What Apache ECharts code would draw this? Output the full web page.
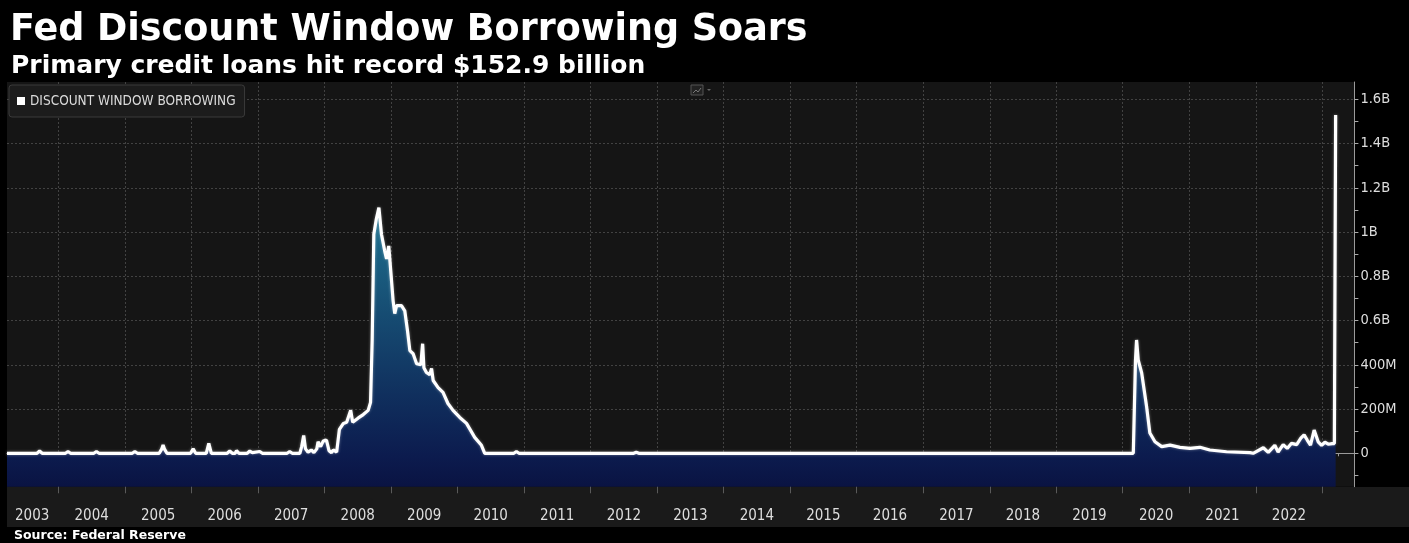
<!DOCTYPE html>
<html>
<head>
<meta charset="utf-8">
<script src="https://cdn.jsdelivr.net/npm/echarts@6/dist/echarts.min.js"></script>
<style>
html,body{margin:0;padding:0;background:#000;}
#chart{width:1409px;height:543px;}
</style>
</head>
<body>
<div id="chart"></div>
<script>
// ---- data (values in the chart's own axis units: millions) ----
const dates = [
'2003-03-25','2003-09-06','2003-09-20','2003-10-04','2004-02-09','2004-02-23','2004-03-08',
'2004-07-14','2004-07-28','2004-08-11','2004-08-25','2004-09-03','2004-09-17',
'2005-02-10','2005-02-24','2005-03-10','2005-07-08','2005-07-22','2005-07-29','2005-08-05','2005-08-19',
'2005-12-27','2006-01-10','2006-01-24','2006-03-23','2006-04-06','2006-04-20',
'2006-07-16','2006-07-30','2006-08-13','2006-08-29','2006-09-05','2006-09-19',
'2006-11-03','2006-11-17','2006-12-01','2007-01-11','2007-01-25','2007-06-10','2007-06-24','2007-07-08',
'2007-08-19','2007-08-29','2007-09-09','2007-09-19','2007-10-03','2007-10-21','2007-11-04',
'2007-11-20','2007-11-27','2007-12-11','2007-12-25','2008-01-12','2008-01-26','2008-02-09','2008-02-18',
'2008-03-08','2008-03-23','2008-04-14','2008-05-02','2008-05-24','2008-06-04','2008-07-05','2008-08-01',
'2008-08-28','2008-09-10','2008-09-19','2008-09-28','2008-10-12','2008-10-26','2008-11-09','2008-11-27',
'2008-12-07','2008-12-19','2008-12-30','2009-01-12','2009-01-21','2009-01-31','2009-02-27','2009-03-17',
'2009-04-01','2009-04-14','2009-05-02','2009-05-21','2009-06-13','2009-06-23','2009-06-30','2009-07-14',
'2009-08-01','2009-08-11','2009-08-20','2009-09-16','2009-10-13','2009-11-09','2009-12-07','2010-01-13',
'2010-02-19','2010-04-05','2010-05-12','2010-05-30','2010-11-06','2010-11-20','2010-12-04',
'2012-08-25','2012-09-08','2012-09-22','2015-12-10','2015-12-20','2016-01-03',
'2020-02-28','2020-03-11','2020-03-17','2020-03-26','2020-04-14','2020-05-11','2020-05-29','2020-06-26',
'2020-08-02','2020-09-17','2020-11-10','2021-01-04','2021-02-28','2021-04-23','2021-07-24','2021-11-30',
'2021-12-17','2022-02-11','2022-03-10','2022-04-15','2022-05-03','2022-05-31','2022-06-22','2022-07-16',
'2022-08-13','2022-09-05','2022-09-23','2022-10-10','2022-10-28','2022-11-17','2022-12-09','2022-12-28',
'2023-01-15','2023-02-02','2023-02-24','2023-03-08','2023-03-15'
];
const borrowing = [
0,0,10,0,0,8,0,
0,8,0,0,8,0,
0,8,0,0,20,37,20,0,
0,20,0,0,45,0,
0,10,0,0,12,0,
0,10,3,8,0,0,8,0,
0,30,80,20,5,15,3,
20,52,30,55,60,12,3,15,
5,108,135,140,194,140,160,175,
194,230,512,990,1060,1110,990,914,
878,937,824,689,631,667,667,644,
554,464,450,405,400,495,387,365,
355,383,329,297,275,225,194,162,
135,72,36,0,0,8,0,
0,5,0,0,6,0,
0,420,512,422,363,211,92,52,
30,37,27,22,27,15,7,3,
0,25,4,36,6,39,22,45,
39,68,83,60,37,105,52,36,
50,41,44,44,1529
];
const years = [2003,2004,2005,2006,2007,2008,2009,2010,2011,2012,2013,2014,2015,2016,2017,2018,2019,2020,2021,2022];
const yearLabelDates = ['2003-08-10','2004-07-02','2005-07-02','2006-07-02','2007-07-02','2008-07-02','2009-07-02',
'2010-07-02','2011-07-02','2012-07-02','2013-07-02','2014-07-02','2015-07-02','2016-07-02','2017-07-02',
'2018-07-02','2019-07-02','2020-07-02','2021-07-02','2022-07-02'];
const yTickValues = [0,200,400,600,800,1000,1200,1400,1600];
const yTickLabels = ['0','200M','400M','0.6B','0.8B','1B','1.2B','1.4B','1.6B'];
const yMinorTicks = [-100,0,100,200,300,400,500,600,700,800,900,1000,1100,1200,1300,1400,1500,1600];

const TITLE = 'Fed Discount Window Borrowing Soars';
const SUBTITLE = 'Primary credit loans hit record $152.9 billion';
const SOURCE = 'Source: Federal Reserve';
const SERIES_NAME = 'DISCOUNT WINDOW BORROWING';

// ---- axis helpers ----
const ts = s => { const p = s.split('-'); return Date.UTC(+p[0], +p[1]-1, +p[2]); };
const yearBounds = [];
for (let y = 2004; y <= 2023; y++) yearBounds.push(Date.UTC(y,0,1));
const quarterTicks = [];
for (let y = 2003; y <= 2023; y++) { [3,6,9].forEach(m => quarterTicks.push(Date.UTC(y,m,1))); }
const labelTs = yearLabelDates.map(ts);
const labelText = {};
labelTs.forEach((t,i) => { labelText[t] = String(years[i]); });

const FONT = '"DejaVu Sans", Verdana, sans-serif';
const FONT_C = '"DejaVu Sans Condensed", "Noto Sans", sans-serif';
const xMin = ts('2003-03-25'), xMax = ts('2023-06-26');
const yMin = -151, yMax = 1678;

const chart = echarts.init(document.getElementById('chart'), null, {renderer:'canvas'});
const gridLine = {show:true, lineStyle:{color:'#424242', width:1, type:[2,2]}};

chart.setOption({
  backgroundColor:'#000',
  animation:false,
  title:[
    {text:TITLE, left:5, top:7, textStyle:{color:'#fff', fontSize:36.5, fontWeight:'bold', fontFamily:FONT}},
    {text:SUBTITLE, left:6, top:49, textStyle:{color:'#fff', fontSize:25, fontWeight:'bold', fontFamily:FONT}},
    {text:SOURCE, left:9, top:524, textStyle:{color:'#fff', fontSize:12.5, fontWeight:'bold', fontFamily:FONT}}
  ],
  legend:{
    left:9, top:85, orient:'horizontal',
    backgroundColor:'#1c1c1c', borderColor:'#3a3a3a', borderWidth:1, borderRadius:3,
    padding:[9,9,9,8], icon:'rect', itemWidth:8, itemHeight:8,
    textStyle:{color:'#dcdcdc', fontSize:13.5, fontFamily:FONT_C},
    data:[{name:SERIES_NAME, itemStyle:{color:'#fff'}}]
  },
  grid:{left:7, right:54.6, top:82, bottom:56.3, show:true, backgroundColor:'#151515', borderWidth:0, containLabel:false},
  xAxis:[
    {type:'value', min:xMin, max:xMax, position:'bottom',
     axisLine:{show:true, lineStyle:{color:'#9a9a9a', width:1}},
     axisTick:{show:true, customValues:yearBounds, length:40, lineStyle:{color:'#5a5a5a', width:1}},
     axisLabel:{show:true, customValues:labelTs, color:'#dedede', fontSize:15, fontFamily:FONT_C, margin:22,
       formatter: v => labelText[v] || ''},
     splitLine:gridLine},
    {type:'value', min:xMin, max:xMax, position:'bottom',
     axisLine:{show:false},
     axisTick:{show:true, customValues:quarterTicks, length:3, lineStyle:{color:'#9a9a9a', width:1}},
     axisLabel:{show:false}, splitLine:{show:false}}
  ],
  yAxis:[
    {type:'value', position:'right', min:yMin, max:yMax,
     axisLine:{show:true, lineStyle:{color:'#9a9a9a', width:1}},
     axisTick:{show:true, customValues:yMinorTicks, length:4, lineStyle:{color:'#aaa'}},
     axisLabel:{show:true, customValues:yTickValues, color:'#dedede', fontSize:14.5, fontFamily:FONT_C, margin:6,
       formatter: v => { const i = yTickValues.indexOf(Math.round(v)); return i >= 0 ? yTickLabels[i] : ''; }},
     splitLine:{show:false}},
    {type:'value', position:'right', min:yMin, max:yMax,
     axisLine:{show:false}, axisTick:{show:false, customValues:yTickValues}, axisLabel:{show:false},
     splitLine:gridLine}
  ],
  graphic:[
    {type:'rect', z:-10, shape:{x:7, y:487, width:1402, height:40}, style:{fill:'#1a1a1a'}},
    {type:'rect', shape:{x:691, y:85, width:12, height:10}, style:{fill:'#222', stroke:'#555', lineWidth:1}},
    {type:'polyline', shape:{points:[[693,93],[696,90],[698,92],[701,88]]}, style:{stroke:'#777', lineWidth:1, fill:null}},
    {type:'polygon', shape:{points:[[707,89],[711,89],[709,91]]}, style:{fill:'#666'}}
  ],
  series:[{
    name:SERIES_NAME, type:'line', xAxisIndex:0, yAxisIndex:0,
    data: dates.map((d,i) => [ts(d), borrowing[i]]),
    showSymbol:false, symbol:'none', z:5,
    itemStyle:{color:'#fff'},
    lineStyle:{color:'#fff', width:3.2, shadowColor:'rgba(255,255,255,0.4)', shadowBlur:3},
    areaStyle:{origin:'start', opacity:1, color:new echarts.graphic.LinearGradient(0,113,0,487,[
      {offset:0, color:'#2584a3'},
      {offset:0.27, color:'#1f7290'},
      {offset:0.5, color:'#175176'},
      {offset:0.75, color:'#10305e'},
      {offset:0.92, color:'#0c1b4e'},
      {offset:1, color:'#0a1342'}
    ], true)}
  }]
});
</script>
</body>
</html>
